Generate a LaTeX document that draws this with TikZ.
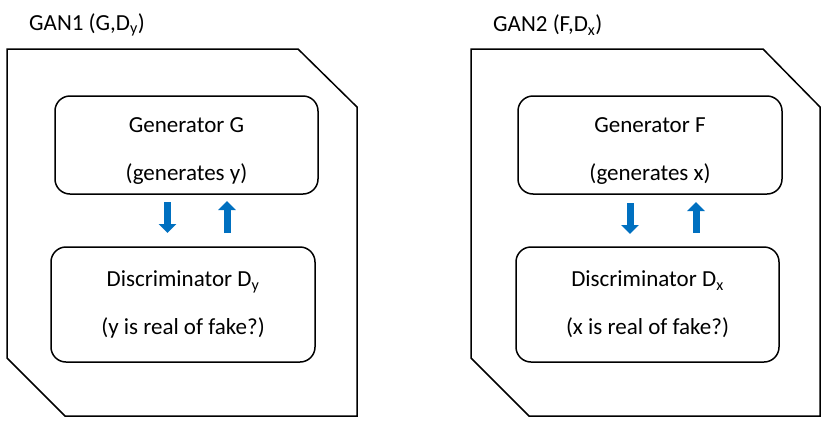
\documentclass[tikz,border=0pt]{standalone}
\usepackage{fontspec}
\setmainfont{Carlito}
\usetikzlibrary{arrows.meta}
\definecolor{arrblue}{HTML}{0070C0}
\tikzset{
  frame/.style={draw=black, line width=1.5pt, line join=miter},
  box/.style={draw=black, line width=1.5pt, rounded corners=15pt, inner sep=0pt},
  boxtext/.style={inner sep=0pt, align=center, font=\fontsize{23}{48}\selectfont},
  title/.style={anchor=west, inner sep=0pt, font=\fontsize{23}{28}\selectfont},
  flow/.style={draw=arrblue, line width=7pt, -{Triangle[width=17pt,length=9pt]}}
}
\begin{document}
\begin{tikzpicture}[x=1pt,y=-1pt]
\useasboundingbox (0,0) rectangle (833,426);
% left GAN
\draw[frame] (7,49) -- (298,49) -- (357,107) -- (357,416) -- (65,416) -- (7,358) -- cycle;
\node[title] (t1) at (29,25) {GAN1 (G,D\textsubscript{y})};
\node[box, minimum width=263pt, minimum height=98pt] (g1) at (186.5,145) {};
\node[boxtext] (g1t) at ([yshift=-6pt]g1.center) {Generator G\\(generates y)};
\node[box, minimum width=264pt, minimum height=115pt] (d1) at (183,304.5) {};
\node[boxtext] (d1t) at (d1.center) {Discriminator D\textsubscript{y}\\(y is real of fake?)};
\coordinate (a1s) at (167.5,202);
\coordinate (a1e) at (167.5,233);
\coordinate (b1s) at (227,233);
\coordinate (b1e) at (227,201);
\draw[flow] (a1s) -- (a1e);
\draw[flow] (b1s) -- (b1e);
% right GAN
\draw[frame] (471,49) -- (763,49) -- (820,107) -- (820,416) -- (529,416) -- (471,358) -- cycle;
\node[title] (t2) at (493,25) {GAN2 (F,D\textsubscript{x})};
\node[box, minimum width=264pt, minimum height=98pt] (g2) at (650,145) {};
\node[boxtext] (g2t) at ([yshift=-6pt]g2.center) {Generator F\\(generates x)};
\node[box, minimum width=263pt, minimum height=115pt] (d2) at (647.5,304.5) {};
\node[boxtext] (d2t) at (d2.center) {Discriminator D\textsubscript{x}\\(x is real of fake?)};
\coordinate (a2s) at (630,203);
\coordinate (a2e) at (630,234);
\coordinate (b2s) at (696,233);
\coordinate (b2e) at (696,202);
\draw[flow] (a2s) -- (a2e);
\draw[flow] (b2s) -- (b2e);
\end{tikzpicture}
\end{document}
